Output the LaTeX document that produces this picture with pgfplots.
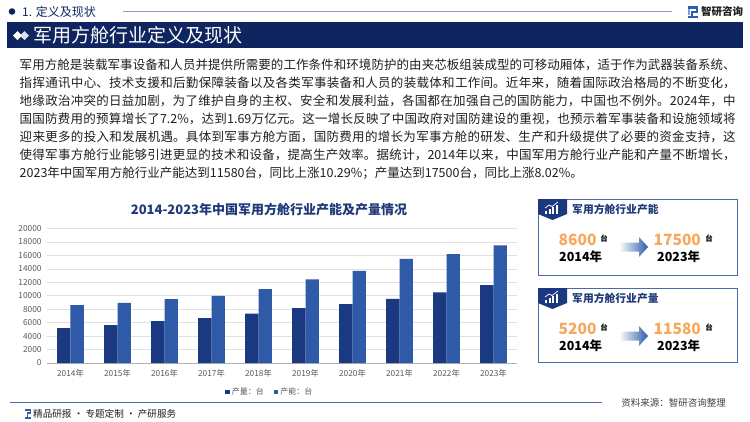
\documentclass[border=0pt]{standalone}
\usepackage{pgfplots}
\pgfplotsset{compat=1.18}
\usepackage{fontspec}
\setmainfont{Noto Sans CJK SC}
\definecolor{navy}{HTML}{0E2560}
\definecolor{titleblue}{HTML}{1F3A7A}
\definecolor{bardark}{HTML}{1B3980}
\definecolor{barlight}{HTML}{2F5AA8}
\definecolor{txt}{HTML}{1F1F1F}
\definecolor{axisgray}{HTML}{595959}
\definecolor{gridgray}{HTML}{E0E0E0}
\definecolor{boxblue}{HTML}{4A6AB0}
\definecolor{orangenum}{HTML}{F7A85A}
\definecolor{linegray}{HTML}{8A9CC4}
\definecolor{logoblue}{HTML}{2C5FB0}

\pgfplotstableread{
x prod cap
0 5200 8600
1 5640 8960
2 6240 9500
3 6680 10000
4 7330 10990
5 8170 12430
6 8760 13710
7 9550 15500
8 10500 16190
9 11580 17500
}\datatable

\newcommand{\statbox}[5]{%
\begin{scope}[shift={(0,#1)}]
\draw[boxblue, line width=0.8pt] (538,199) rectangle (737,#5);
\fill[bardark] (538,199) -- (567,199) -- (567,214) -- (552.5,220) -- (538,214) -- cycle;
\fill[white] (545,211) rectangle (547,214);
\fill[white] (548.5,209) rectangle (550.5,214);
\fill[white] (552,207) rectangle (554,214);
\fill[white] (555.5,205) rectangle (557.5,214);
\draw[white, line width=0.7pt] (545,208) -- (549,205) -- (552,206.5) -- (558,202);
\node[anchor=west, inner sep=0, text=titleblue, font=\fontsize{10.8}{12}\selectfont\bfseries] at (572,209) {#2};
\node[anchor=west, inner sep=0, text=orangenum, font=\fontsize{15.5}{16}\selectfont\bfseries] at (558.5,239.5) {#3};
\node[anchor=center, inner sep=0, text=black, font=\fontsize{7.5}{8}\selectfont\bfseries] at (604,239) {台};
\node[anchor=west, inner sep=0, text=black, font=\fontsize{12.5}{14}\selectfont\bfseries] at (559,257) {2014年};
\shade[left color=white, right color=barlight] (619,242.5) -- (639,242.5) -- (639,237) -- (648,247) -- (639,257) -- (639,251.5) -- (619,251.5) -- cycle;
\node[anchor=west, inner sep=0, text=orangenum, font=\fontsize{15.5}{16}\selectfont\bfseries] at (653.5,239.5) {#4};
\node[anchor=center, inner sep=0, text=black, font=\fontsize{7.5}{8}\selectfont\bfseries] at (709,239) {台};
\node[anchor=west, inner sep=0, text=black, font=\fontsize{12.5}{14}\selectfont\bfseries] at (657,257) {2023年};
\end{scope}}

\begin{document}
\begin{tikzpicture}
\begin{scope}[x=1pt,y=-1pt]
\path[use as bounding box, fill=white] (0,0) rectangle (750,421);
% header
\fill[navy] (12,11.5) circle (3.3);
\node[anchor=west, inner sep=0, text=navy, font=\fontsize{12}{14}\selectfont] at (22,11.5) {1. 定义及现状};
\draw[linegray, line width=0.8pt] (123,11) -- (672,11);
% logo
\fill[logoblue] (688,6) rectangle (698,8.5);
\fill[logoblue] (695.5,6) rectangle (698,12);
\fill[logoblue] (690.5,10.5) rectangle (698,12.5);
\fill[logoblue] (690.5,10.5) rectangle (693,16.5);
\fill[logoblue] (688,16) rectangle (698,18);
\fill[logoblue!60] (688,9) rectangle (690,15);
\node[anchor=west, inner sep=0, text=txt, font=\fontsize{10.5}{12}\selectfont\bfseries] at (701,12) {智研咨询};
% banner
\fill[navy] (7,22) rectangle (743,48);
\fill[white!85!navy] (24.5,31) -- (29,35.5) -- (24.5,40) -- (20,35.5) -- cycle;
\fill[white] (17.5,31) -- (22,35.5) -- (17.5,40) -- (13,35.5) -- cycle;
\node[anchor=west, inner sep=0, text=white, font=\fontsize{19}{21}\selectfont] at (33,35.5) {军用方舱行业定义及现状};
% paragraph
\node[anchor=north west, inner sep=0, text width=716pt, align=justify, text=txt, font=\fontsize{12.5}{18.1}\selectfont] at (19.5,58.5) {\XeTeXlinebreaklocale "zh"\XeTeXlinebreakskip=0pt plus 1pt%
军用方舱是装载军事设备和人员并提供所需要的工作条件和环境防护的由夹芯板组装成型的可移动厢体，适于作为武器装备系统、\linebreak
指挥通讯中心、技术支援和后勤保障装备以及各类军事装备和人员的装载体和工作间。近年来，随着国际政治格局的不断变化，\linebreak
地缘政治冲突的日益加剧，为了维护自身的主权、安全和发展利益，各国都在加强自己的国防能力，中国也不例外。2024年，中\linebreak
国国防费用的预算增长了7.2\%，达到1.69万亿元。这一增长反映了中国政府对国防建设的重视，也预示着军事装备和设施领域将\linebreak
迎来更多的投入和发展机遇。具体到军事方舱方面，国防费用的增长为军事方舱的研发、生产和升级提供了必要的资金支持，这\linebreak
使得军事方舱行业能够引进更显的技术和设备，提高生产效率。据统计，2014年以来，中国军用方舱行业产能和产量不断增长，\linebreak
2023年中国军用方舱行业产能达到11580台，同比上涨10.29\%；产量达到17500台，同比上涨8.02\%。};
% chart title
\node[anchor=center, inner sep=0, text=titleblue, font=\fontsize{13}{14}\selectfont\bfseries] at (269,210) {2014-2023年中国军用方舱行业产能及产量情况};
% boxes
\statbox{0}{军用方舱行业产能}{8600}{17500}{275}
\statbox{89}{军用方舱行业产量}{5200}{11580}{273.5}
% bottom line and footer
\draw[boxblue, line width=0.8pt] (10,402) -- (602,402);
\fill[logoblue] (25,409) rectangle (31,410.5);
\fill[logoblue] (29.5,409) rectangle (31,413);
\fill[logoblue] (26.5,412) rectangle (31,413.5);
\fill[logoblue] (26.5,412) rectangle (28,418);
\fill[logoblue] (25,417) rectangle (31,418.5);
\node[anchor=west, inner sep=0, text=txt, font=\fontsize{9.6}{11}\selectfont] at (33,414) {精品研报 · 专题定制 · 产研服务};
\node[anchor=center, inner sep=0, text=txt!85, font=\fontsize{9.5}{11}\selectfont] at (673.5,403) {资料来源：智研咨询整理};
\end{scope}
\begin{axis}[
  at={(47pt,-363pt)}, anchor=south west,
  scale only axis, width=470pt, height=134.5pt,
  xmin=-0.5, xmax=9.5, ymin=0, ymax=20000,
  ybar=0pt, bar width=13.3pt,
  xtick={0,...,9},
  xticklabels={2014年,2015年,2016年,2017年,2018年,2019年,2020年,2021年,2022年,2023年},
  ytick={0,2000,...,20000},
  major tick length=0pt,
  ymajorgrids, grid style={gridgray, line width=0.6pt},
  axis lines*=left,
  axis line style={-},
  y axis line style={draw=none},
  x axis line style={draw=black!30, line width=0.6pt},
  tick label style={text=axisgray, font=\fontsize{8.3}{9}\selectfont},
  /pgf/number format/assume math mode=true,
  /pgf/number format/1000 sep={},
  scaled y ticks=false,
  yticklabel style={xshift=-2pt},
  xticklabel style={yshift=-3pt},
  legend columns=2,
  legend style={at={(0.474,-0.2156)}, anchor=center, draw=none, fill=none, font=\fontsize{8}{9}\selectfont, text=axisgray, /tikz/every even column/.append style={column sep=8pt}},
  legend image code/.code={\fill[#1] (0pt,-2.3pt) rectangle (4.6pt,2.3pt);},
]
\addplot[fill=bardark, draw=none] table[x=x, y=prod] {\datatable};
\addplot[fill=barlight, draw=none] table[x=x, y=cap] {\datatable};
\legend{产量：台, 产能：台}
\end{axis}
\end{tikzpicture}
\end{document}
